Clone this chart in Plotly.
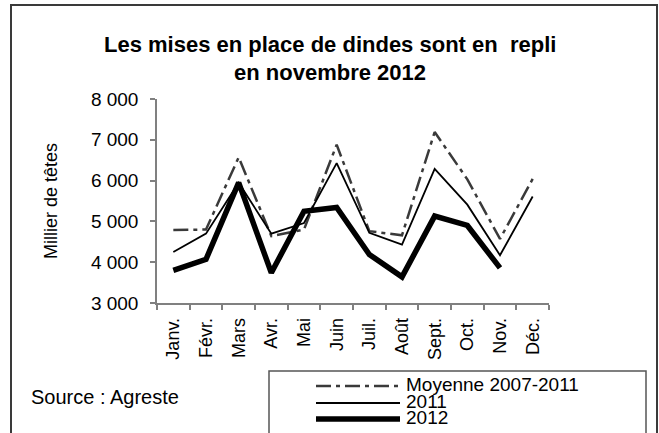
import plotly.graph_objects as go

# ---- data ----
months = ["Janv.", "Févr.", "Mars", "Avr.", "Mai", "Juin", "Juil.", "Août", "Sept.", "Oct.", "Nov.", "Déc."]
moyenne = [4790, 4800, 6570, 4640, 4800, 6880, 4760, 4660, 7190, 6030, 4570, 6040]
y2011 = [4250, 4700, 5950, 4700, 4960, 6430, 4720, 4430, 6290, 5410, 4170, 5610]
y2012 = [3800, 4070, 5950, 3740, 5250, 5340, 4190, 3640, 5130, 4900, 3860, None]
series_names = ["Moyenne 2007-2011", "2011", "2012"]
y_tickvals = [3000, 4000, 5000, 6000, 7000, 8000]
y_ticktext = ["3 000", "4 000", "5 000", "6 000", "7 000", "8 000"]
title_lines = ["Les mises en place de dindes sont en  repli", "en novembre 2012"]
y_title = "Millier de têtes"
source_text = "Source : Agreste"

W, H = 659, 433
PL, PR, PT, PB = 157, 549, 99, 303  # plot area in pixels
FONT = "Liberation Sans, Arial, sans-serif"

def px(x):
    return (x - PL) / (PR - PL)

def py(y):
    return (PB - y) / (PB - PT)

dash_pat = "15px,5px,4px,5px"
styles = [
    dict(color="#3a3a3a", width=2.5, dash=dash_pat),
    dict(color="black", width=1.8),
    dict(color="black", width=5.5),
]

fig = go.Figure()
for name, vals, st in zip(series_names, [moyenne, y2011, y2012], styles):
    fig.add_trace(go.Scatter(x=months, y=vals, mode="lines", name=name,
                             line=st, showlegend=False, connectgaps=False))

shapes = []
annotations = []

# outer frame
shapes.append(dict(type="rect", xref="paper", yref="paper",
                   x0=px(11), x1=px(657), y0=py(445), y1=py(5),
                   line=dict(color="#3a3a3a", width=2), layer="below"))
# legend box
shapes.append(dict(type="rect", xref="paper", yref="paper",
                   x0=px(269), x1=px(646), y0=py(445), y1=py(371),
                   line=dict(color="#555555", width=1.5)))
leg_y = [386, 403, 419]
for name, st, ly in zip(series_names, styles, leg_y):
    shapes.append(dict(type="line", xref="paper", yref="paper",
                       x0=px(316), x1=px(400), y0=py(ly), y1=py(ly),
                       line=st))
    annotations.append(dict(text=name, xref="paper", yref="paper",
                            x=px(404), y=py(ly - 2), xanchor="left", yanchor="middle",
                            showarrow=False, font=dict(family=FONT, size=19, color="black")))

# title
for line, ty in zip(title_lines, [44, 72]):
    annotations.append(dict(text="<b>" + line.replace("  ", " &nbsp;") + "</b>", xref="paper", yref="paper",
                            x=px(330), y=py(ty), xanchor="center", yanchor="middle",
                            showarrow=False, font=dict(family=FONT, size=22, color="black")))
# y title
annotations.append(dict(text=y_title, xref="paper", yref="paper", x=px(51), y=py(201),
                        xanchor="center", yanchor="middle", textangle=-90, showarrow=False,
                        font=dict(family=FONT, size=18, color="black")))
# source
annotations.append(dict(text=source_text, xref="paper", yref="paper", x=px(29), y=py(397),
                        xanchor="left", yanchor="middle", showarrow=False,
                        font=dict(family=FONT, size=20, color="black")))

fig.update_layout(
    width=W, height=H,
    margin=dict(l=PL, r=W - PR, t=PT, b=H - PB, pad=0),
    paper_bgcolor="white", plot_bgcolor="white",
    font=dict(family=FONT, size=17, color="black"),
    shapes=shapes, annotations=annotations,
    showlegend=False,
)
fig.update_xaxes(type="category", range=[-0.5, 11.5], tickson="boundaries",
                 ticks="outside", ticklen=5, tickcolor="#808080", tickwidth=1.5,
                 showline=True, linecolor="#808080", linewidth=1.5,
                 showgrid=False, zeroline=False, tickangle=-90,
                 tickfont=dict(family=FONT, size=18, color="black"), ticklabelstandoff=6)
fig.update_yaxes(range=[3000, 8000], tickvals=y_tickvals, ticktext=y_ticktext,
                 ticks="outside", ticklen=5, tickcolor="#808080", tickwidth=1.5,
                 showline=True, linecolor="#808080", linewidth=1.5,
                 showgrid=False, zeroline=False,
                 tickfont=dict(family=FONT, size=19, color="black"), ticklabelstandoff=8)

fig.write_html("out.html", config={"displayModeBar": False},
               post_script="document.body.style.margin='0';document.body.style.overflow='hidden';")
